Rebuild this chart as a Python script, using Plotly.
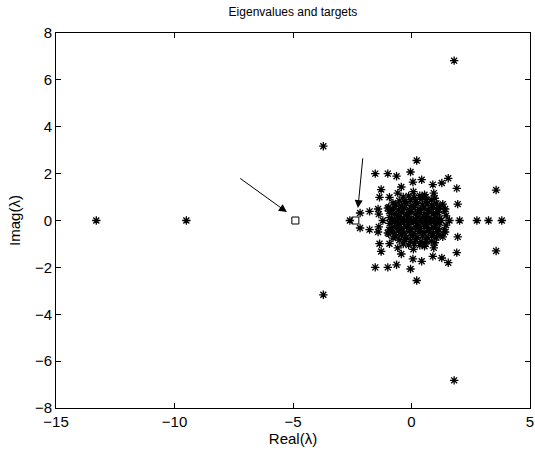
import plotly.graph_objects as go

# Eigenvalues: real-axis values
real_eigs = [-13.3, -9.5, -2.6, -1.21, -0.79, -0.6, -0.4, -0.2, 0.0, 0.2, 0.4,
             0.6, 0.8, 1.0, 1.25, 1.6, 2.03, 2.76, 3.25, 3.81]

# Eigenvalues with positive imaginary part (conjugates mirrored below)
outer_re = [0.22, -1.53, -1.0, -0.63, -0.04, 0.06, 0.43, 0.9, 1.28, 1.55, 1.91,
            1.95, 3.57, -1.28, -1.35, -2.17, -1.77, -1.41, -1.38, -1.0, -0.93,
            -0.58, -0.43, 1.32, 1.39, 1.46, 0.94, 0.55, 0.08, -3.72, 1.8, -0.96, 1.42]
outer_im = [2.56, 2.0, 2.0, 1.89, 2.07, 1.64, 1.74, 1.53, 1.6, 1.8, 1.37,
            0.70, 1.30, 1.32, 0.99, 0.32, 0.39, 0.49, 0.27, 0.53, 0.99,
            1.17, 1.43, 0.70, 0.39, 0.2, 1.17, 1.1, 1.23, 3.17, 6.82, 0.57, 0.49]

core_re = [-0.92, -0.71, -0.52, -0.33, -0.12, 0.07, 0.26, 0.44, 0.63, 0.82, 1.01, 1.18,
           -0.85, -0.63, -0.41, -0.22, -0.02, 0.17, 0.37, 0.56, 0.74, 0.93, 1.12,
           -0.78, -0.55, -0.31, -0.1, 0.11, 0.31, 0.52, 0.71, 0.9, 1.08,
           -0.66, -0.44, -0.2, 0.02, 0.24, 0.46, 0.66, 0.86, 1.05,
           -0.52, -0.29, -0.05, 0.18, 0.4, 0.62, 0.83,
           -0.35, -0.12, 0.12, 0.35, 0.6,
           -0.78, -0.95, 1.2, 0.98]
core_im = [0.12, 0.06, 0.15, 0.09, 0.18, 0.05, 0.14, 0.08, 0.17, 0.07, 0.13, 0.09,
           0.31, 0.26, 0.35, 0.28, 0.37, 0.27, 0.33, 0.25, 0.36, 0.29, 0.34,
           0.49, 0.45, 0.53, 0.46, 0.55, 0.47, 0.52, 0.44, 0.55, 0.48,
           0.67, 0.62, 0.71, 0.64, 0.73, 0.66, 0.72, 0.65, 0.74,
           0.84, 0.8, 0.88, 0.82, 0.9, 0.83, 0.89,
           1.0, 1.05, 0.98, 1.06, 1.0,
           0.75, 0.4, 0.6, 0.95]

# Targets
target_re = [-4.9, -2.37]
target_im = [0.0, 0.0]

# Arrows: (tail_x, tail_y, head_x, head_y)
arrow_tail_x = [-7.29, -2.05]
arrow_tail_y = [1.84, 2.72]
arrow_head_x = [-5.26, -2.26]
arrow_head_y = [0.36, 0.53]

x_ticks = [-15, -10, -5, 0, 5]
y_ticks = [-8, -6, -4, -2, 0, 2, 4, 6, 8]

up_re = outer_re + core_re
up_im = outer_im + core_im
xs = real_eigs + up_re + up_re
ys = [0.0] * len(real_eigs) + up_im + [-v for v in up_im]

fig = go.Figure()
fig.add_trace(go.Scatter(
    x=xs, y=ys, mode="markers",
    marker=dict(symbol="asterisk-open", size=7, color="black",
                line=dict(color="black", width=1.3)),
    showlegend=False, hoverinfo="skip"))
fig.add_trace(go.Scatter(
    x=target_re, y=target_im, mode="markers",
    marker=dict(symbol="square-open", size=7, color="black",
                line=dict(color="black", width=1)),
    showlegend=False, hoverinfo="skip"))

for tx, ty, hx, hy in zip(arrow_tail_x, arrow_tail_y, arrow_head_x, arrow_head_y):
    fig.add_annotation(x=hx, y=hy, ax=tx, ay=ty, xref="x", yref="y",
                       axref="x", ayref="y", text="", showarrow=True,
                       arrowhead=2, arrowsize=1.6, arrowwidth=1,
                       arrowcolor="black", standoff=0)

font = dict(family="Liberation Sans, Arial, sans-serif", size=15, color="black")
fig.update_layout(
    width=535, height=451,
    margin=dict(l=56, r=1, t=33, b=43),
    paper_bgcolor="white", plot_bgcolor="white",
    font=font,
    title=dict(text="Eigenvalues and targets", x=0.5, xref="paper",
               y=1 - 12 / 451, yref="container", yanchor="middle",
               font=dict(family="Liberation Sans, Arial, sans-serif", size=12, color="black")),
)
axis_common = dict(showline=True, linecolor="black", linewidth=1, mirror="ticks",
                   ticks="inside", ticklen=5, tickcolor="black", showgrid=False,
                   zeroline=False, tickfont=font, ticklabeloverflow="allow")
fig.update_xaxes(range=[-15, 5], tickvals=x_ticks, ticklabelstandoff=0,
                 title=dict(text="Real(λ)", standoff=0, font=font), **axis_common)
fig.update_yaxes(range=[-8, 8], tickvals=y_ticks, ticklabelstandoff=0,
                 title=dict(text="Imag(λ)", standoff=10, font=font), **axis_common)

fig.write_html(
    "out.html",
    config={"displayModeBar": False, "staticPlot": True},
    post_script=("document.body.style.margin='0px';"
                 "document.body.style.overflow='hidden';"
                 "document.documentElement.style.overflow='hidden';"),
)
